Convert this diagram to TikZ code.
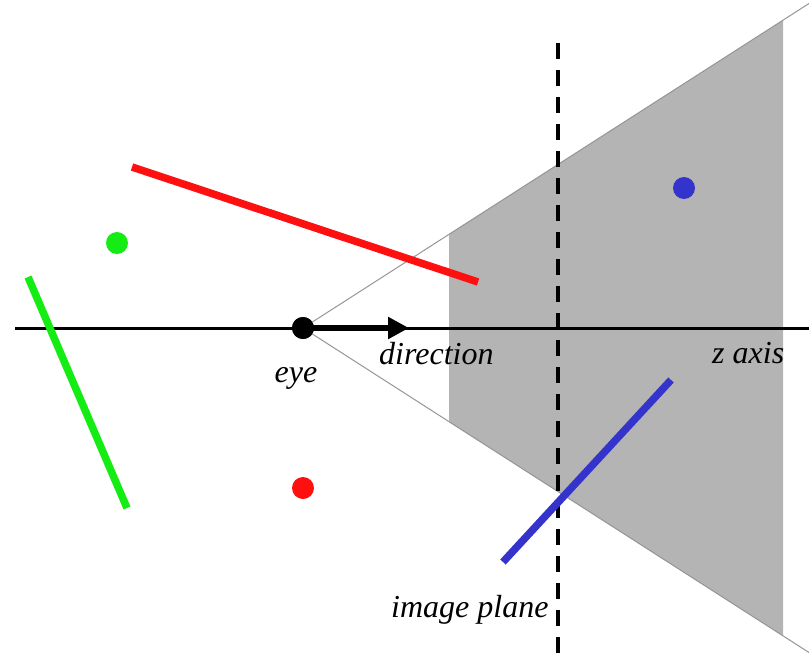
\documentclass[tikz,border=0pt]{standalone}
\usepackage{fontspec}
\setmainfont{Liberation Serif}
\usetikzlibrary{arrows.meta}
\definecolor{cred}{RGB}{255,16,16}
\definecolor{cgreen}{RGB}{20,236,20}
\definecolor{cblue}{RGB}{52,52,204}
\definecolor{cgray}{RGB}{180,180,180}
\definecolor{cfrust}{RGB}{150,150,150}
\tikzset{
  lbl/.style={inner sep=0pt, font=\fontsize{32}{37}\selectfont\itshape},
  dot/.style={circle, inner sep=0pt, minimum size=22pt},
  seg/.style={line width=7.5pt},
  frust/.style={draw=cfrust, line width=1pt},
}
\begin{document}
\begin{tikzpicture}[x=1pt,y=-1pt]
\useasboundingbox (0,0) rectangle (809,656);
% frustum corners
\coordinate (f1) at (449,234);
\coordinate (f2) at (783,20);
\coordinate (f3) at (783,636);
\coordinate (f4) at (449,422);
\coordinate (up) at (809,3.5);
\coordinate (lo) at (809,652.5);
\fill[cgray] (f1) -- (f2) -- (f3) -- (f4) -- cycle;
\node[dot, fill=black] (eye) at (303,328) {};
\draw[frust] (eye.center) -- (up);
\draw[frust] (eye.center) -- (lo);
% axis
\coordinate (ax0) at (15,328);
\coordinate (ax1) at (809,328);
\draw[line width=3pt] (ax0) -- (ax1);
% image plane
\coordinate (ip0) at (558,43);
\coordinate (ip1) at (558,656);
\draw[line width=4pt, dash pattern=on 16pt off 11pt] (ip0) -- (ip1);
% coloured objects
\coordinate (r0) at (132,167);
\coordinate (r1) at (478,282);
\draw[seg, cred] (r0) -- (r1);
\coordinate (g0) at (28,277);
\coordinate (g1) at (127,508);
\draw[seg, cgreen] (g0) -- (g1);
\coordinate (b0) at (503,562);
\coordinate (b1) at (671,380);
\draw[seg, cblue] (b0) -- (b1);
\node[dot, fill=cgreen] (gdot) at (117,243) {};
\node[dot, fill=cred] (rdot) at (303,488) {};
\node[dot, fill=cblue] (bdot) at (684,188) {};
% direction arrow
\coordinate (dirtip) at (409,328);
\draw[line width=6.5pt, -{Triangle[length=21pt,width=21pt]}] (eye.center) -- (dirtip);
\node[dot, fill=black] at (eye) {};
% labels
\node[lbl, anchor=base] (eyelbl) at (296,382) {eye};
\node[lbl, anchor=base west] (dirlbl) at (379,364) {direction};
\node[lbl, anchor=base west] (zlbl) at (712,363) {z axis};
\node[lbl, anchor=base west] (iplbl) at (391,617) {image plane};
\end{tikzpicture}
\end{document}
